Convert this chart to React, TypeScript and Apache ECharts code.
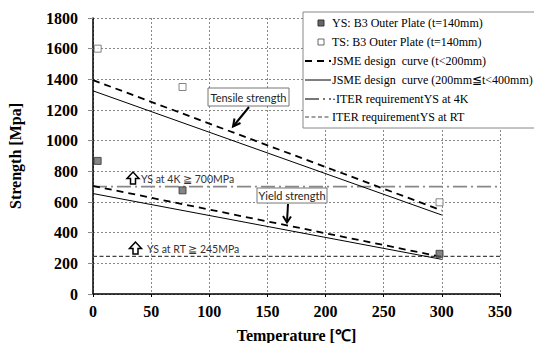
import React, { useEffect, useRef } from "react";
import * as echarts from "echarts";

const ysPoints: [number, number][] = [[4, 868], [77, 676], [298, 262]];
const tsPoints: [number, number][] = [[4, 1600], [77, 1350], [298, 598]];
const jsmeDashTS: [number, number][] = [[0, 1395], [300, 545]];
const jsmeDashYS: [number, number][] = [[0, 705], [300, 242]];
const jsmeSolidTS: [number, number][] = [[0, 1325], [300, 515]];
const jsmeSolidYS: [number, number][] = [[0, 655], [300, 226]];
const iter4K: [number, number][] = [[0, 700], [350, 700]];
const iterRT: [number, number][] = [[0, 245], [350, 245]];

const legendLabels = [
  "YS: B3 Outer Plate (t=140mm)",
  "TS: B3 Outer Plate (t=140mm)",
  "JSME design  curve (t<200mm)",
  "JSME design  curve (200mm\u2266t<400mm)",
  "\u00b7ITER requirementYS at 4K",
  "ITER requirementYS at RT",
];
const annotationTexts = ["Tensile strength", "Yield strength", "YS at 4K \u2267 700MPa", "YS at RT \u2267 245MPa"];

const SERIF = "Liberation Serif";
const SANS = "Lato";

export default function App() {
  const ref = useRef<HTMLDivElement>(null);
  useEffect(() => {
    if (!ref.current) return;
    const chart = echarts.init(ref.current, undefined, { renderer: "svg" });
    const lineBase = { type: "line" as const, showSymbol: false, symbol: "none", silent: true };
    const rowY = [23, 42, 61, 80, 99, 117];
    const legendGraphics: any[] = [
      { type: "rect", shape: { x: 303, y: 12, width: 240, height: 116 }, style: { fill: "#fff", stroke: "#888", lineWidth: 1 }, z: 100 },
      { type: "rect", shape: { x: 318, y: rowY[0] - 3, width: 6, height: 6 }, style: { fill: "#666", stroke: "#333", lineWidth: 1 }, z: 101 },
      { type: "rect", shape: { x: 318, y: rowY[1] - 3, width: 6, height: 6 }, style: { fill: "#fff", stroke: "#666", lineWidth: 1 }, z: 101 },
      { type: "line", shape: { x1: 305, y1: rowY[2], x2: 331, y2: rowY[2] }, style: { stroke: "#000", lineWidth: 1.8, lineDash: [7, 5] }, z: 101 },
      { type: "line", shape: { x1: 305, y1: rowY[3], x2: 331, y2: rowY[3] }, style: { stroke: "#000", lineWidth: 1 }, z: 101 },
      { type: "line", shape: { x1: 305, y1: rowY[4], x2: 331, y2: rowY[4] }, style: { stroke: "#777", lineWidth: 1.8, lineDash: [14, 4, 2, 4] }, z: 101 },
      { type: "line", shape: { x1: 305, y1: rowY[5], x2: 331, y2: rowY[5] }, style: { stroke: "#444", lineWidth: 1.2, lineDash: [4, 2.5] }, z: 101 },
    ];
    legendLabels.forEach((t, i) => {
      legendGraphics.push({
        type: "text",
        x: 332,
        y: rowY[i],
        style: { text: t, fill: "#000", fontFamily: SERIF, fontSize: 12, verticalAlign: "middle", align: "left" },
        z: 102,
      });
    });
    const annotations: any[] = [
      { type: "rect", shape: { x: 208, y: 88, width: 81, height: 18 }, style: { fill: "#fff", stroke: "#777", lineWidth: 1 }, z: 50 },
      { type: "text", x: 248.5, y: 97, style: { text: annotationTexts[0], fill: "#222", fontFamily: SANS, fontSize: 11, align: "center", verticalAlign: "middle" }, z: 51 },
      { type: "line", shape: { x1: 249, y1: 107, x2: 233.5, y2: 126 }, style: { stroke: "#000", lineWidth: 2 }, z: 51 },
      { type: "polyline", shape: { points: [[240.5, 123], [233, 126.5], [234.5, 118.5]] }, style: { stroke: "#000", lineWidth: 2, fill: null }, z: 51 },
      { type: "rect", shape: { x: 257, y: 188, width: 70, height: 15 }, style: { fill: "#fff", stroke: "#777", lineWidth: 1 }, z: 50 },
      { type: "text", x: 292, y: 195.5, style: { text: annotationTexts[1], fill: "#222", fontFamily: SANS, fontSize: 11, align: "center", verticalAlign: "middle" }, z: 51 },
      { type: "line", shape: { x1: 288, y1: 204, x2: 287, y2: 222 }, style: { stroke: "#000", lineWidth: 2 }, z: 51 },
      { type: "polyline", shape: { points: [[283, 216], [287, 222.5], [291, 216.5]] }, style: { stroke: "#000", lineWidth: 2, fill: null }, z: 51 },
      { type: "polygon", shape: { points: [[133, 172], [127, 178.5], [130.5, 178.5], [130.5, 184], [135.5, 184], [135.5, 178.5], [139, 178.5]] }, style: { fill: "#fff", stroke: "#000", lineWidth: 1.5 }, z: 51 },
      { type: "text", x: 141, y: 178.5, style: { text: annotationTexts[2], fill: "#333", fontFamily: SANS, fontSize: 10.5, align: "left", verticalAlign: "middle" }, z: 51 },
      { type: "polygon", shape: { points: [[135.5, 242], [129.5, 248.5], [133, 248.5], [133, 254], [138, 254], [138, 248.5], [141.5, 248.5]] }, style: { fill: "#fff", stroke: "#000", lineWidth: 1.5 }, z: 51 },
      { type: "text", x: 147, y: 248.5, style: { text: annotationTexts[3], fill: "#333", fontFamily: SANS, fontSize: 10.5, align: "left", verticalAlign: "middle" }, z: 51 },
    ];

    const labelStyle = { fontFamily: SERIF, fontWeight: "bold" as const, fontSize: 16, color: "#000" };

    chart.setOption({
      animation: false,
      backgroundColor: "#fff",
      textStyle: { fontFamily: SERIF },
      grid: { left: 93, right: 34, top: 18, bottom: 49, containLabel: false, outerBoundsMode: "none" },
      xAxis: {
        type: "value",
        min: 0,
        max: 350,
        interval: 50,
        name: "Temperature [\u2103]",
        nameLocation: "middle",
        nameGap: 33,
        nameTextStyle: labelStyle,
        axisLine: { show: true, lineStyle: { color: "#000", width: 1.5 } },
        axisTick: { show: true, inside: false, length: 3, lineStyle: { color: "#000", width: 1 } },
        axisLabel: { ...labelStyle, margin: 9, formatter: (v: number) => String(v) },
        splitLine: { show: true, lineStyle: { color: "#888", type: [2, 2], width: 1 } },
      },
      yAxis: {
        type: "value",
        min: 0,
        max: 1800,
        interval: 200,
        name: "Strength [Mpa]",
        nameLocation: "middle",
        nameGap: 70,
        nameTextStyle: labelStyle,
        axisLine: { show: true, lineStyle: { color: "#000", width: 1.5 } },
        axisTick: { show: true, inside: false, length: 5, lineStyle: { color: "#888", width: 1 } },
        axisLabel: { ...labelStyle, margin: 15, formatter: (v: number) => String(v) },
        splitLine: { show: true, lineStyle: { color: "#888", type: [2, 2], width: 1 } },
      },
      series: [
        { ...lineBase, name: "ITER 4K", data: iter4K, lineStyle: { color: "#888", width: 1.8, type: [14, 4, 2, 4] }, z: 2 },
        { ...lineBase, name: "ITER RT", data: iterRT, lineStyle: { color: "#444", width: 1.3, type: [4, 2.5] }, z: 2 },
        { ...lineBase, name: "JSME dashed TS", data: jsmeDashTS, lineStyle: { color: "#000", width: 1.8, type: [7, 5] }, z: 3 },
        { ...lineBase, name: "JSME dashed YS", data: jsmeDashYS, lineStyle: { color: "#000", width: 1.8, type: [7, 5] }, z: 3 },
        { ...lineBase, name: "JSME solid TS", data: jsmeSolidTS, lineStyle: { color: "#000", width: 1 }, z: 3 },
        { ...lineBase, name: "JSME solid YS", data: jsmeSolidYS, lineStyle: { color: "#000", width: 1 }, z: 3 },
        {
          type: "scatter",
          name: "YS",
          data: ysPoints,
          symbol: "rect",
          symbolSize: 7,
          itemStyle: { color: "#666", borderColor: "#333", borderWidth: 1 },
          z: 5,
        },
        {
          type: "scatter",
          name: "TS",
          data: tsPoints,
          symbol: "rect",
          symbolSize: 7,
          itemStyle: { color: "#fff", borderColor: "#666", borderWidth: 1 },
          z: 5,
        },
      ],
      graphic: [...legendGraphics, ...annotations],
    });
    return () => chart.dispose();
  }, []);
  return <div ref={ref} style={{ position: "fixed", left: 0, top: 0, width: 534, height: 343 }} />;
}
